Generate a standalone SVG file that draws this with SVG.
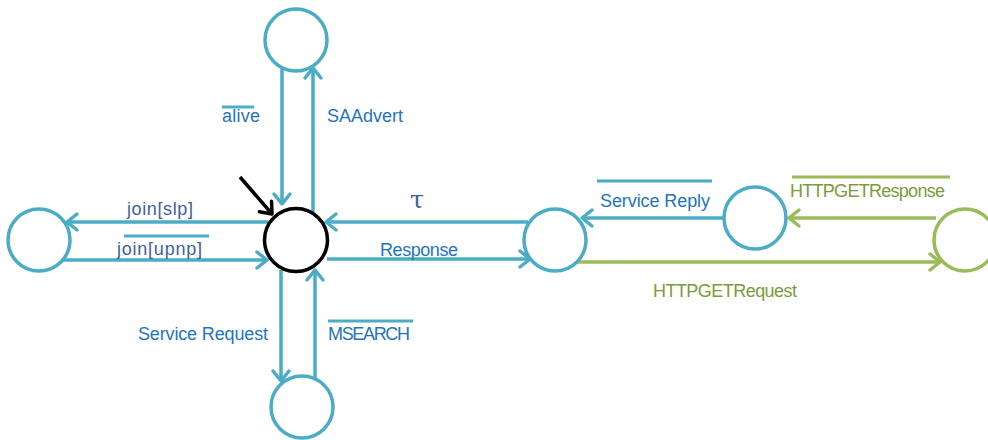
<svg xmlns="http://www.w3.org/2000/svg" width="988" height="440" viewBox="0 0 988 440">
<style>
.st{fill:#fff;stroke:#4bacc6;stroke-width:3.5}
.g{stroke:#9bbb59}
.init{stroke:#000;stroke-width:3.5}
.e{fill:none;stroke:#4bacc6;stroke-width:3.5}
.eg{fill:none;stroke:#9bbb59;stroke-width:3.5}
.t{font-family:"Liberation Sans",Arial,sans-serif;font-size:18px;fill:#1f74bc}
.tj{fill:#40609c}
.tg{fill:#7c9a3c}
.tau{font-family:"DejaVu Serif","Liberation Serif",serif;font-size:25px}
.ov{stroke:#4bacc6;stroke-width:3}
.ovg{stroke:#9bbb59;stroke-width:3}
</style>
<defs>
<marker id="ab" markerUnits="userSpaceOnUse" markerWidth="26" markerHeight="26" viewBox="-13 -13 26 26" refX="0" refY="0" orient="auto">
<path d="M-10,-8 L0,0 L-10,8" fill="none" stroke="#4bacc6" stroke-width="3.5" stroke-linecap="round" stroke-linejoin="round"/>
</marker>
<marker id="ag" markerUnits="userSpaceOnUse" markerWidth="26" markerHeight="26" viewBox="-13 -13 26 26" refX="0" refY="0" orient="auto">
<path d="M-10,-8 L0,0 L-10,8" fill="none" stroke="#9bbb59" stroke-width="3.5" stroke-linecap="round" stroke-linejoin="round"/>
</marker>
<marker id="ak" markerUnits="userSpaceOnUse" markerWidth="26" markerHeight="26" viewBox="-13 -13 26 26" refX="0" refY="0" orient="auto">
<path d="M-10,-8 L0,0 L-10,8" fill="none" stroke="#000" stroke-width="3.5" stroke-linecap="round" stroke-linejoin="round"/>
</marker>
</defs>

<g id="connectors">
<line class="e" x1="282" y1="68" x2="282" y2="204" marker-end="url(#ab)"/>
<line class="e" x1="313" y1="212" x2="313" y2="68" marker-end="url(#ab)"/>
<line class="e" x1="268" y1="222" x2="67" y2="222" marker-end="url(#ab)"/>
<line class="e" x1="62" y1="260" x2="267" y2="260" marker-end="url(#ab)"/>
<line class="e" x1="528" y1="222" x2="326" y2="222" marker-end="url(#ab)"/>
<line class="e" x1="327" y1="259" x2="530" y2="259" marker-end="url(#ab)"/>
<line class="e" x1="724" y1="218" x2="582" y2="218" marker-end="url(#ab)"/>
<line class="eg" x1="936" y1="218" x2="789" y2="218" marker-end="url(#ag)"/>
<line class="eg" x1="577" y1="262" x2="940" y2="262" marker-end="url(#ag)"/>
<line class="e" x1="281" y1="270" x2="281" y2="381" marker-end="url(#ab)"/>
<line class="e" x1="315" y1="378" x2="315" y2="270" marker-end="url(#ab)"/>
<line class="init" x1="240" y1="177" x2="272" y2="214" marker-end="url(#ak)"/>

<text class="t" x="222" y="122" textLength="38">alive</text>
<line class="ov" x1="222" y1="107" x2="254" y2="107"/>
<text class="t" x="327" y="122" textLength="76">SAAdvert</text>
<text class="t tj" x="127" y="215" textLength="66">join[slp]</text>
<text class="t tj" x="117" y="255" textLength="85">join[upnp]</text>
<line class="ov" x1="124" y1="236" x2="209" y2="236"/>
<text class="t tj tau" x="410" y="208">τ</text>
<text class="t" x="380" y="256" textLength="78">Response</text>
<text class="t" x="600" y="207" textLength="110">Service Reply</text>
<line class="ov" x1="597" y1="181" x2="712" y2="181"/>
<text class="t tg" x="790" y="197" textLength="155">HTTPGETResponse</text>
<line class="ovg" x1="792" y1="177" x2="950" y2="177"/>
<text class="t tg" x="653" y="297" textLength="144">HTTPGETRequest</text>
<text class="t" x="138" y="340" textLength="130">Service Request</text>
<text class="t" x="328" y="340" textLength="82">MSEARCH</text>
<line class="ov" x1="328" y1="321" x2="413" y2="321"/>
</g>

<g id="s_top"><circle class="st" cx="296" cy="40" r="31"/></g>
<g id="s_center"><circle cx="296" cy="240" r="31.5" fill="#fff" stroke="#000" stroke-width="3.5"/></g>
<g id="s_left"><circle class="st" cx="39" cy="240" r="31"/></g>
<g id="s_right"><circle class="st" cx="555" cy="240" r="31"/></g>
<g id="s_reply"><circle class="st" cx="755" cy="218" r="31"/></g>
<g id="s_http"><circle class="st g" cx="965" cy="240" r="31"/></g>
<g id="s_bottom"><circle class="st" cx="302" cy="407" r="31"/></g>
</svg>
